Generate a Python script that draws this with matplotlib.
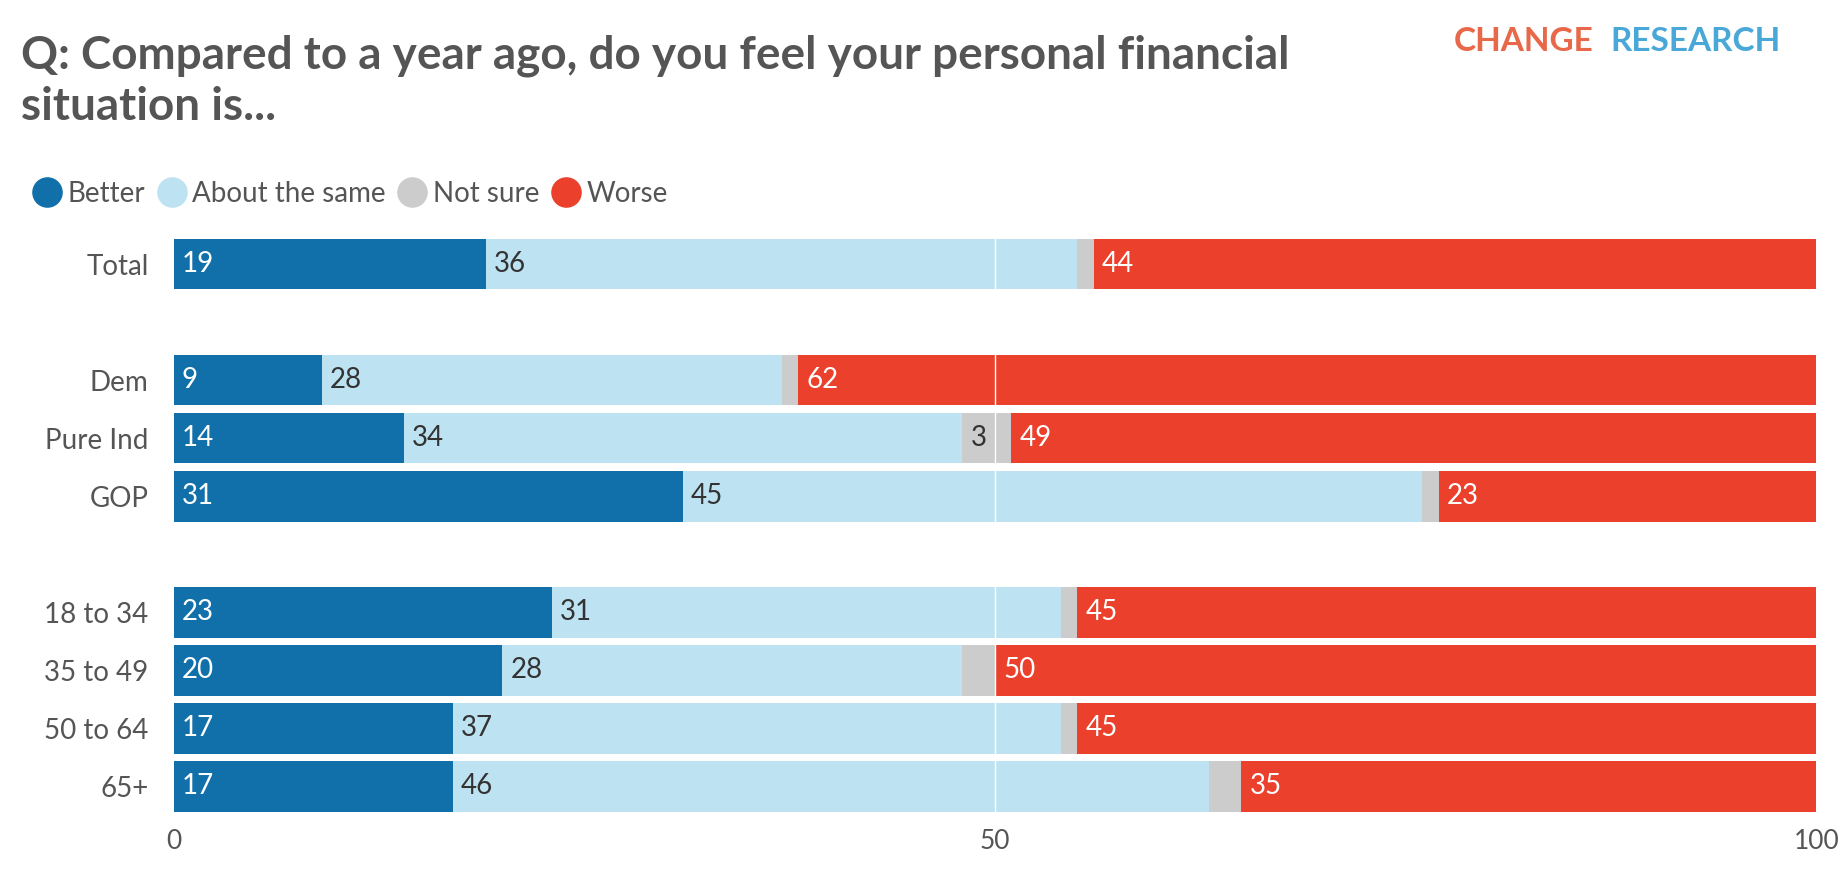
import matplotlib
matplotlib.use("Agg")
import matplotlib.pyplot as plt
from matplotlib.lines import Line2D

plt.rcParams["font.family"] = ["Lato", "DejaVu Sans"]

groups = ["Total", "Dem", "Pure Ind", "GOP", "18 to 34", "35 to 49", "50 to 64", "65+"]
rows = [0, 2, 3, 4, 6, 7, 8, 9]
better = [19, 9, 14, 31, 23, 20, 17, 17]
same = [36, 28, 34, 45, 31, 28, 37, 46]
not_sure = [1, 1, 3, 1, 1, 2, 1, 2]
worse = [44, 62, 49, 23, 45, 50, 45, 35]

series = [
    ("Better", better, "#1170aa", "white"),
    ("About the same", same, "#bde3f2", "#333333"),
    ("Not sure", not_sure, "#cccccc", "#333333"),
    ("Worse", worse, "#eb402b", "white"),
]

fig = plt.figure(figsize=(18.4, 8.74), dpi=100)
ax = fig.add_axes([0.0944, 0.067, 0.8928, 0.664])

left = [0] * len(groups)
for name, vals, color, tcolor in series:
    ax.barh(rows, vals, left=left, height=0.87, color=color, zorder=2)
    for r, l, v in zip(rows, left, vals):
        if v >= 3:
            ax.text(l + 0.5, r, str(v), va="center", ha="left", fontsize=20,
                    color=tcolor, zorder=4)
    left = [a + b for a, b in zip(left, vals)]

ax.axvline(50, color="white", lw=1, zorder=3)
ax.set_xlim(0, 100)
ax.set_ylim(9.5, -0.5)
ax.set_yticks(rows)
ax.set_yticklabels(groups, fontsize=20, color="#555555")
ax.set_xticks([0, 50, 100])
ax.set_xticklabels(["0", "50", "100"], fontsize=19, color="#555555")
ax.tick_params(length=0, pad=10)
ax.tick_params(axis="y", pad=18)
for s in ax.spines.values():
    s.set_visible(False)

fig.text(0.0115, 0.96, "Q: Compared to a year ago, do you feel your personal financial\nsituation is...",
         fontsize=33, fontweight="bold", color="#555555", va="top", linespacing=1.25)
fig.text(0.79, 0.952, "CHANGE", fontsize=24, fontweight="bold", color="#e8694a", va="center")
fig.text(0.875, 0.952, "RESEARCH", fontsize=24, fontweight="bold", color="#4aa8d8", va="center")

handles = [Line2D([], [], marker="o", ls="", markersize=21, color=c) for _, _, c, _ in series]
fig.legend(handles, [n for n, _, _, _ in series], loc="center left",
           bbox_to_anchor=(0.002, 0.778), ncol=4, frameon=False, fontsize=20,
           handletextpad=0.1, columnspacing=0.3, handlelength=1.3, labelcolor="#555555")

fig.savefig("out.png", dpi=100)
